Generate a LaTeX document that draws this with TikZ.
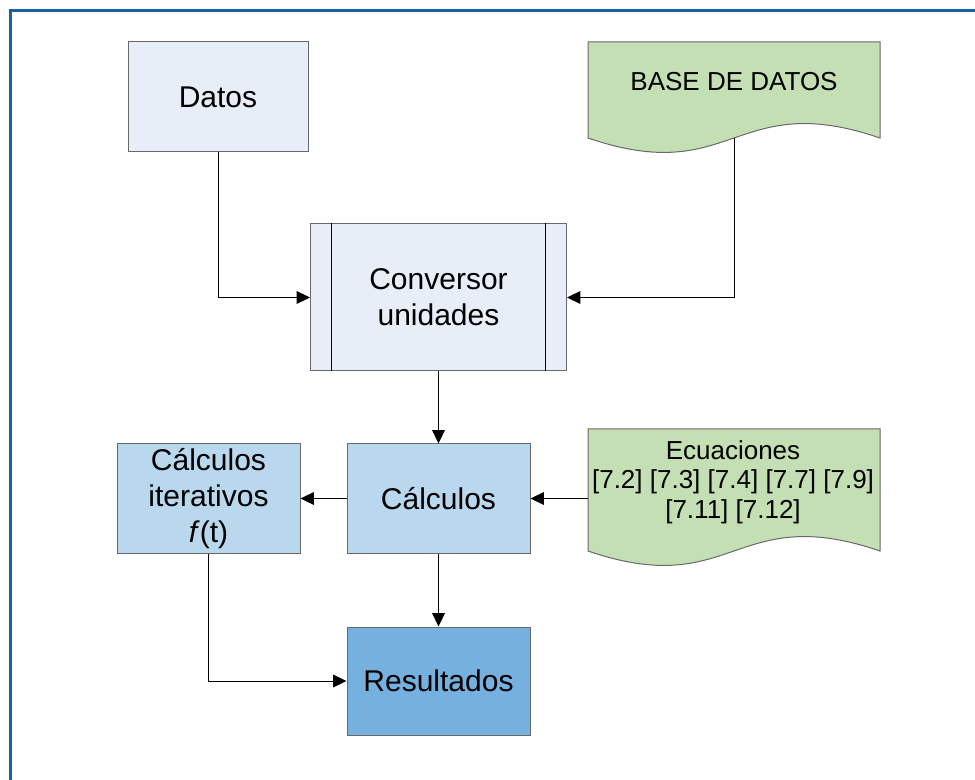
\documentclass[tikz,border=0pt]{standalone}
\usepackage{fontspec}
\setmainfont{Liberation Sans}
\usetikzlibrary{arrows.meta}

\definecolor{framecol}{RGB}{31,93,158}
\definecolor{edgecol}{RGB}{105,105,105}
\definecolor{datosfill}{RGB}{231,238,247}
\definecolor{calcfill}{RGB}{185,216,238}
\definecolor{resfill}{RGB}{117,176,222}
\definecolor{docfill}{RGB}{196,223,180}

\tikzset{
  box/.style={draw=edgecol, line width=0.75pt, minimum width=137.25pt, minimum height=81.75pt,
    inner sep=0pt, align=center, font=\fontsize{22.5}{27}\selectfont},
  doctext/.style={inner sep=0pt, align=center, font=\fontsize{19.5}{22}\selectfont},
  link/.style={line width=0.75pt, -{Triangle[length=10pt,width=9.5pt]}}
}

% document shape: x, y (top left), width, height at the ends
\newcommand{\docshape}[4]{%
  \draw[edgecol, fill=docfill, line width=0.75pt] (#1,#2) -- ({#1+#3},#2) -- ({#1+#3},{#2+#4})
    .. controls ({#1+#3/2},{#2+#4-50}) and ({#1+#3/2},{#2+#4+50}) .. (#1,{#2+#4}) -- cycle;}

\begin{document}
\begin{tikzpicture}[x=0.75pt,y=-0.75pt]
\useasboundingbox (0,0) rectangle (975,780);

% draw frame
\draw[framecol, line width=1.75pt] (10.5,10.5) rectangle (1000,800);

% draw documents
\docshape{588}{42}{292}{96}
\docshape{588}{429}{292}{122}
\node[doctext] (bdtext) at (734,82) {BASE DE DATOS};
\node[doctext] (ecutext) at (733,482) {Ecuaciones\\{[7.2]} [7.3] [7.4] [7.7] [7.9]\\{[7.11]} [7.12]};
\coordinate (bdwave) at (734,138);
\coordinate (ecuedge) at (588,498.5);

% draw boxes
\node[box, fill=datosfill, minimum width=135pt, minimum height=82.5pt] (datos) at (218,97) {Datos};
\node[box, fill=datosfill, minimum width=192pt, minimum height=110.25pt] (conv) at (438.5,297.5) {Conversor\\unidades};
\draw[line width=0.75pt] ([xshift=16pt]conv.north west) -- ([xshift=16pt]conv.south west);
\draw[line width=0.75pt] ([xshift=-16.5pt]conv.north east) -- ([xshift=-16.5pt]conv.south east);
\node[box, fill=calcfill] (calc) at (438.5,498.5) {Cálculos};
\node[box, fill=calcfill] (iter) at (208.5,498.5) {Cálculos\\iterativos\\\textit{f}(t)};
\node[box, fill=resfill, minimum height=81pt] (res) at (438.5,681) {Resultados};

% draw arrows
\draw[link] (datos.south) |- (conv.west);
\draw[link] (bdwave) |- (conv.east);
\draw[link] (conv.south) -- (calc.north);
\draw[link] (ecuedge) -- (calc.east);
\draw[link] (calc.west) -- (iter.east);
\draw[link] (calc.south) -- (res.north);
\draw[link] (iter.south) |- (res.west);

\end{tikzpicture}
\end{document}
